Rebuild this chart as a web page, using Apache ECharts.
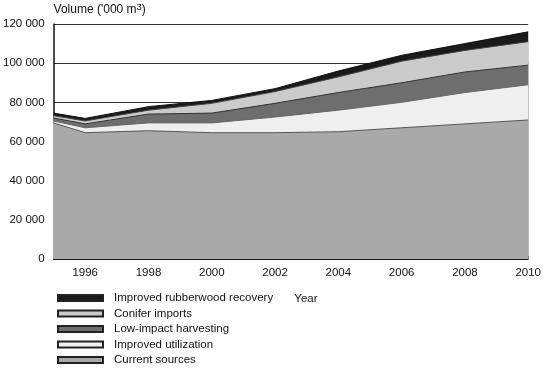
<!DOCTYPE html>
<html>
<head>
<meta charset="utf-8">
<script src="https://cdn.jsdelivr.net/npm/echarts@6/dist/echarts.min.js"></script>
<style>html,body{margin:0;padding:0;background:#fff}#c{width:544px;height:370px}</style>
</head>
<body>
<div id="c"></div>
<script>
var years = [1995, 1996, 1998, 2000, 2002, 2004, 2006, 2008, 2010];
var currentSources = [69500, 64500, 65500, 64500, 64500, 65000, 67000, 69000, 71000];
var improvedUtilization = [1000, 2500, 4000, 5000, 8000, 11000, 13000, 16000, 18000];
var lowImpactHarvesting = [1500, 2000, 4500, 5000, 7000, 9000, 10000, 10500, 10000];
var coniferImports = [1200, 1500, 2000, 5000, 6000, 8000, 11000, 11000, 12000];
var rubberwoodRecovery = [1300, 1300, 1800, 1500, 1500, 3000, 3000, 3500, 5000];
var yTicks = [0, 20000, 40000, 60000, 80000, 100000, 120000];
var xLabelYears = [1996, 1998, 2000, 2002, 2004, 2006, 2008, 2010];

var names = ['Improved rubberwood recovery', 'Conifer imports', 'Low-impact harvesting', 'Improved utilization', 'Current sources'];
var layers = [currentSources, improvedUtilization, lowImpactHarvesting, coniferImports, rubberwoodRecovery];
var layerNames = [names[4], names[3], names[2], names[1], names[0]];
var fills = ['#a9a9a9', '#efefef', '#6e6e6e', '#cbcbcb', '#1a1a1a'];
var borders = ['#555', '#666', '#333', '#444', '#111'];

// cumulative totals (stack built from the layer arrays)
var cum = [];
layers.forEach(function (arr, k) {
  cum.push(arr.map(function (v, i) { return v + (k > 0 ? cum[k - 1][i] : 0); }));
});

function fmt(v) { return v === 0 ? '0' : String(v).replace(/\B(?=(\d{3})+(?!\d))/g, ' '); }

var FONT = 'Liberation Sans';
var series = layers.map(function (arr, k) {
  return {
    name: layerNames[k], type: 'line',
    data: years.map(function (y, i) { return [y, cum[k][i]]; }),
    symbol: 'none', z: 10 - k,
    lineStyle: { width: 1, color: borders[k] },
    areaStyle: { color: fills[k], opacity: 1 },
    itemStyle: { color: fills[k], borderColor: '#222', borderWidth: 1 }
  };
});

var chart = echarts.init(document.getElementById('c'), null, { renderer: 'canvas' });
chart.setOption({
  animation: false,
  textStyle: { fontFamily: FONT },
  grid: { left: 53, right: 15, top: 24, bottom: 111, containLabel: false },
  legend: {
    orient: 'vertical', left: 57, top: 292, itemGap: 3.5, padding: 0,
    itemWidth: 45, itemHeight: 6,
    data: names,
    icon: 'rect',
    textStyle: { fontFamily: FONT, fontSize: 11.5, color: '#111', padding: [0, 0, 0, 6] }
  },
  xAxis: {
    type: 'value', min: 1995, max: 2010, interval: 1,
    name: 'Year', nameLocation: 'middle', nameGap: 34,
    nameTextStyle: { fontFamily: FONT, fontSize: 11.5, color: '#111', padding: [0, 0, 0, 30] },
    axisLine: { show: true, lineStyle: { color: '#111', width: 1.5 } },
    axisTick: { show: true, inside: true, length: 3, lineStyle: { color: '#333' } },
    splitLine: { show: false },
    axisLabel: {
      margin: 8, fontSize: 11.5, color: '#111', fontFamily: FONT,
      formatter: function (v) { return xLabelYears.indexOf(v) >= 0 ? String(v) : ''; }
    }
  },
  yAxis: {
    type: 'value', min: yTicks[0], max: yTicks[yTicks.length - 1], interval: 20000,
    name: "Volume ('000 m{s|3})", nameLocation: 'end', nameGap: 6,
    nameTextStyle: {
      align: 'left', fontFamily: FONT, fontSize: 12, color: '#111',
      rich: { s: { fontSize: 9.5, verticalAlign: 'top', padding: [0, 0, 6, 0], fontFamily: FONT, color: '#111' } }
    },
    axisLine: { show: true, lineStyle: { color: '#111', width: 1.5 } },
    axisTick: { show: false },
    splitLine: { show: true, lineStyle: { color: '#333', width: 1.2 } },
    axisLabel: { margin: 9, fontSize: 11.5, color: '#111', fontFamily: FONT, formatter: fmt }
  },
  series: series
});
</script>
</body>
</html>
